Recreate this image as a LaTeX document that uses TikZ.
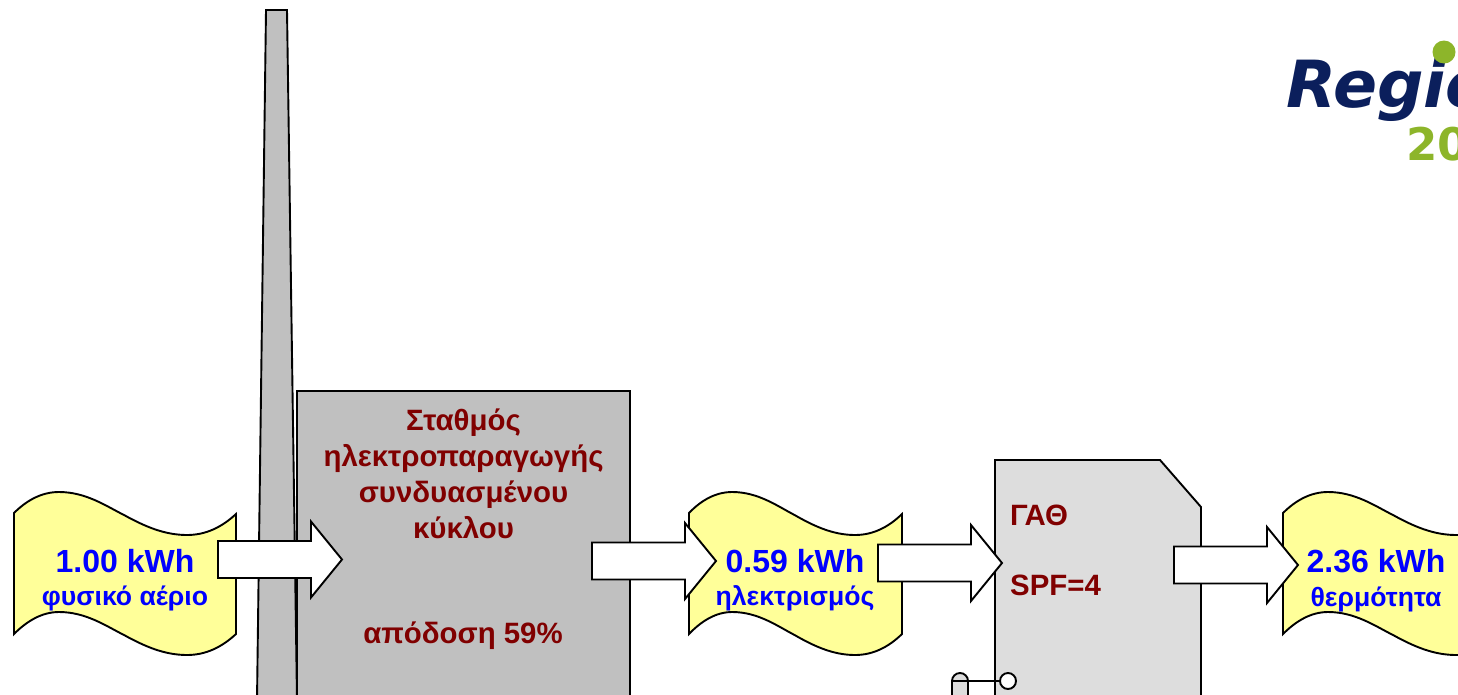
\documentclass[tikz,border=0pt]{standalone}
\usepackage{fontspec}
\setmainfont{Liberation Sans}
\newfontfamily\logofont{DejaVu Sans}
\definecolor{wavefill}{HTML}{FFFF99}
\definecolor{plantgray}{HTML}{C0C0C0}
\definecolor{hpgray}{HTML}{DDDDDD}
\definecolor{darkred}{HTML}{800000}
\definecolor{logonavy}{HTML}{0B1F5C}
\definecolor{logogreen}{HTML}{8DB52A}
\tikzset{
  outline/.style={draw=black,line width=1.9pt,line join=miter},
  blocktext/.style={font=\fontsize{29.4}{36}\selectfont\bfseries,text=darkred,align=center,inner sep=0pt},
  kwh/.style={font=\fontsize{32}{36}\selectfont\bfseries,text=blue,inner sep=0pt},
  kind/.style={font=\fontsize{26.6}{30}\selectfont\bfseries,text=blue,inner sep=0pt},
}
% #1 left x, #2 width
\newcommand{\flowwave}[2]{%
  \begin{scope}[shift={(#1,0)},xscale=#2/222]
    \path[outline,fill=wavefill]
      (0,513) .. controls (13,500) and (28,492) .. (45,492)
      .. controls (72,492) and (92,506) .. (110,515)
      .. controls (130,526) and (150,535) .. (173,535)
      .. controls (192,535) and (208,527) .. (222,514)
      -- (222,634)
      .. controls (208,647) and (192,655) .. (173,655)
      .. controls (150,655) and (130,646) .. (110,635)
      .. controls (92,626) and (72,612) .. (45,612)
      .. controls (28,612) and (13,621) .. (0,634) -- cycle;
  \end{scope}}
% #1 tail x, #2 axis y
\newcommand{\flowarrow}[2]{%
  \path[outline,fill=white,shift={(#1,#2)}]
    (0,-18.5) -- (93,-18.5) -- (93,-38) -- (124,0) -- (93,38) -- (93,18.5) -- (0,18.5) -- cycle;}
\begin{document}
\begin{tikzpicture}[x=1pt,y=-1pt]
\useasboundingbox (0,0) rectangle (1458,694);
\clip (0,0) rectangle (1458,694);
% chimney
\path[outline,fill=plantgray] (266,10) -- (287,10) -- (297,700) -- (257,700) -- cycle;
% power plant
\path[outline,fill=plantgray] (297,391) -- (630,391) -- (630,700) -- (297,700) -- cycle;
% heat pump
\path[outline,fill=hpgray] (995,700) -- (995,460) -- (1160,460) -- (1201,507) -- (1201,700) -- cycle;
\path[outline,fill=hpgray] (952,700) -- (952,681) arc[start angle=180,end angle=360,radius=8] -- (968,700) -- cycle;
\node[circle,outline,fill=white,minimum size=16pt,inner sep=0pt] (valve) at (1008,681) {};
\coordinate (stem) at (952,681);
\draw[outline] (stem) -- (valve);
% waves
\flowwave{14}{222}
\flowwave{689}{213}
\flowwave{1283}{222}
% arrows
\flowarrow{218}{559.5}
\flowarrow{592}{561}
\flowarrow{878}{563}
\flowarrow{1174}{565}
% texts
\node[blocktext] (plant) at (463.5,474) {Σταθμός\\ηλεκτροπαραγωγής\\συνδυασμένου\\κύκλου};
\node[blocktext] (eff) at (463,636) {απόδοση 59\%};
\node[blocktext,anchor=west] (gath) at (1010,515) {ΓΑΘ};
\node[blocktext,anchor=west] (spf) at (1010,585) {SPF=4};
\node[kwh] (a1) at (125,561) {1.00 kWh};
\node[kind] (a2) at (125,598) {φυσικό αέριο};
\node[kwh] (b1) at (795,561) {0.59 kWh};
\node[kind] (b2) at (795,598) {ηλεκτρισμός};
\node[kwh] (c1) at (1376,561) {2.36 kWh};
\node[kind] (c2) at (1376,599) {θερμότητα};
% logo
\node[anchor=base west,inner sep=0pt,text=logonavy,font=\logofont\fontsize{65}{65}\selectfont\bfseries\itshape] (logo) at (1286,107) {Regio};
\fill[logogreen] (1444,52) circle[radius=11.5];
\node[anchor=base west,inner sep=0pt,text=logogreen,font=\logofont\fontsize{45}{45}\selectfont\bfseries] (year) at (1406,160) {20};
\end{tikzpicture}
\end{document}
